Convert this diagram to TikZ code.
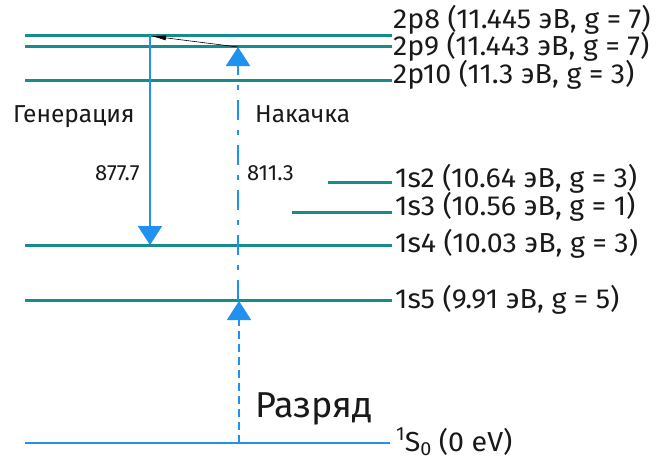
\documentclass[tikz,border=0pt]{standalone}
\usepackage{fontspec}
\setmainfont{Fira Sans}
\newfontfamily\labfont{Fira Sans}[FakeStretch=1.04]
\usetikzlibrary{arrows.meta}
\definecolor{lvl}{RGB}{22,140,140}
\definecolor{arr}{RGB}{33,145,240}
\definecolor{txt}{RGB}{25,25,25}
\begin{document}
\begin{tikzpicture}[x=1pt,y=-1pt,
  level/.style={draw=lvl,line width=3pt},
  lab/.style={anchor=base west,inner sep=0pt,text=txt,font=\labfont\fontsize{27.5}{27.5}\selectfont},
  side/.style={anchor=base west,inner sep=0pt,text=txt,font=\fontsize{24.5}{24.5}\selectfont},
  wl/.style={anchor=base west,inner sep=0pt,text=txt,font=\fontsize{22}{22}\selectfont},
  big/.style={anchor=base west,inner sep=0pt,text=txt,font=\fontsize{36}{36}\selectfont},
  gen/.style={draw=arr,line width=2pt,-{Triangle[length=19pt,width=24pt]},arr},
  pump/.style={draw=arr,line width=2pt,dash pattern=on 20pt off 10pt on 5pt off 10pt,-{Triangle[length=19pt,width=24pt]},arr},
  dis/.style={draw=arr,line width=1.6pt,dash pattern=on 8pt off 5pt,-{Triangle[length=19pt,width=24pt]},arr},
  thin/.style={draw=black,line width=0.6pt,-{Latex[length=15pt,width=5pt]}}
]
\useasboundingbox (0,0) rectangle (666,459);
% levels
\coordinate (p8L) at (25,35);  \coordinate (p8R) at (392,35);
\coordinate (p9L) at (25,46);  \coordinate (p9R) at (392,46);
\coordinate (p10L) at (25,80); \coordinate (p10R) at (392,80);
\coordinate (s2L) at (328,182); \coordinate (s2R) at (392,182);
\coordinate (s3L) at (292,212); \coordinate (s3R) at (392,212);
\coordinate (s4L) at (25,245); \coordinate (s4R) at (392,245);
\coordinate (s5L) at (25,300); \coordinate (s5R) at (392,300);
\coordinate (gL) at (25,443);  \coordinate (gR) at (390,443);
\draw[level] (p8L) -- (p8R);
\draw[level] (p9L) -- (p9R);
\draw[level] (p10L) -- (p10R);
\draw[level] (s2L) -- (s2R);
\draw[level] (s3L) -- (s3R);
\draw[level] (s4L) -- (s4R);
\draw[level] (s5L) -- (s5R);
\draw[draw=arr,line width=2pt] (gL) -- (gR);
% labels
\node[lab] (t8) at (393,28) {2p8 (11.445 эВ, g = 7)};
\node[lab] (t9) at (393,55) {2p9 (11.443 эВ, g = 7)};
\node[lab] (t10) at (393,83) {2p10 (11.3 эВ, g = 3)};
\node[lab] (t2) at (395,187) {1s2 (10.64 эВ, g = 3)};
\node[lab] (t3) at (395,215) {1s3 (10.56 эВ, g = 1)};
\node[lab] (t4) at (395,252) {1s4 (10.03 эВ, g = 3)};
\node[lab] (t5) at (395,308) {1s5 (9.91 эВ, g = 5)};
\node[lab] (tg) at (396,451) {\raisebox{11pt}{\fontsize{19}{19}\selectfont 1}S\raisebox{-4pt}{\fontsize{19}{19}\selectfont 0} (0 eV)};
% transitions
\coordinate (genA) at (150,35);  \coordinate (genB) at (150,245);
\coordinate (pumpA) at (238,300); \coordinate (pumpB) at (238,47);
\coordinate (disA) at (239,443); \coordinate (disB) at (239,301);
\coordinate (thA) at (238,47); \coordinate (thB) at (151,36);
\draw[gen] (genA) -- (genB);
\draw[pump] (pumpA) -- (pumpB);
\draw[dis] (disA) -- (disB);
\draw[thin] (thA) -- (thB);
\node[side] (lgen) at (13,122) {Генерация};
\node[side] (lpump) at (255,122) {Накачка};
\node[wl] (w1) at (95,180) {877.7};
\node[wl] (w2) at (247,180) {811.3};
\node[big] (raz) at (255,417) {Разряд};
\end{tikzpicture}
\end{document}
